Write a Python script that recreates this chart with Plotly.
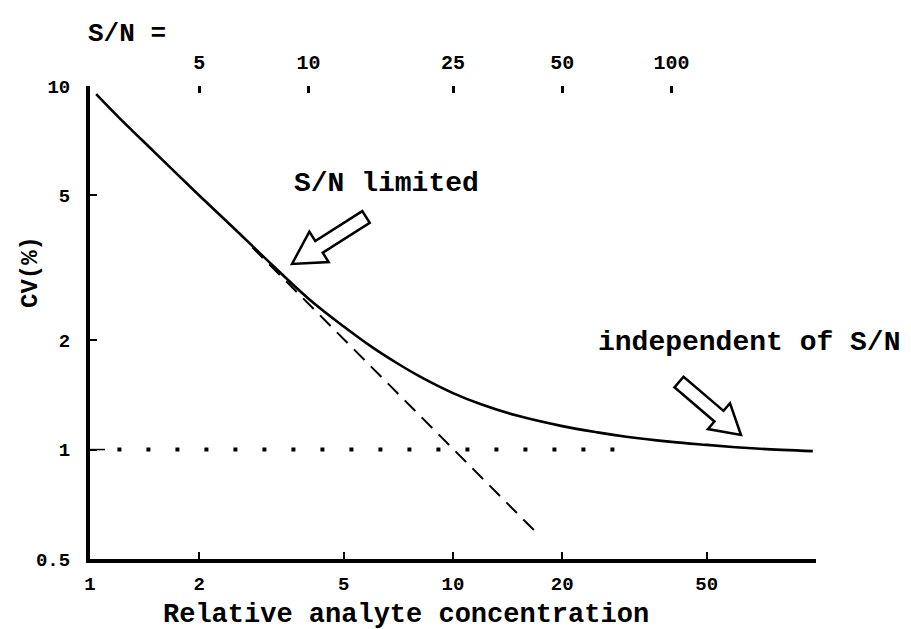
import math
import plotly.graph_objects as go

# ---------------- data ----------------
conc = [1.04, 1.2, 1.5, 2, 2.5, 3, 4, 5, 6, 7, 8, 10, 12, 15, 20, 25, 30, 40, 50, 60, 70, 98]
cv = [9.5, 8.2, 6.6, 5.0, 4.05, 3.4, 2.6, 2.18, 1.91, 1.73, 1.6, 1.43, 1.33, 1.24, 1.16, 1.115,
      1.085, 1.05, 1.03, 1.015, 1.005, 0.99]

dash_conc = [2.8, 17.0]
dash_cv = [3.6, 0.59]

dot_conc = [1.19, 28.5]
dot_cv = [1.0, 1.0]

x_ticks = [1, 2, 5, 10, 20, 50]
x_ticktext = ["1", "2", "5", "10", "20", "50"]
y_ticks = [0.5, 1, 2, 5, 10]
y_ticktext = ["0.5", "1", "2", "5", "10"]
sn_conc = [2, 4, 10, 20, 40]
sn_text = ["5", "10", "25", "50", "100"]

# ---------------- layout geometry ----------------
W, H = 911, 629
L, R, T, B = 82, 103, 78, 78
PW, PH = W - L - R, H - T - B
FONT = "Courier New, Liberation Mono, monospace"
XR = [0, 2]
YR = [math.log10(0.5), 1]


def px2paper(X, Y):
    return (X - L) / PW, (H - B - Y) / PH


def block_arrow(tail, tip, head_len, head_half, shaft_half):
    dx, dy = tip[0] - tail[0], tip[1] - tail[1]
    n = math.hypot(dx, dy)
    ux, uy = dx / n, dy / n
    px, py = -uy, ux
    bx, by = tip[0] - head_len * ux, tip[1] - head_len * uy
    pts = [
        (tail[0] + shaft_half * px, tail[1] + shaft_half * py),
        (bx + shaft_half * px, by + shaft_half * py),
        (bx + head_half * px, by + head_half * py),
        tip,
        (bx - head_half * px, by - head_half * py),
        (bx - shaft_half * px, by - shaft_half * py),
        (tail[0] - shaft_half * px, tail[1] - shaft_half * py),
    ]
    pp = [px2paper(*p) for p in pts]
    return "M " + " L ".join(f"{a:.5f},{b:.5f}" for a, b in pp) + " Z"


fig = go.Figure()

fig.add_trace(go.Scatter(x=dot_conc, y=dot_cv, mode="lines",
                         line=dict(color="black", width=4, dash="4px,25px"),
                         hoverinfo="skip", showlegend=False))
fig.add_trace(go.Scatter(x=dash_conc, y=dash_cv, mode="lines",
                         line=dict(color="black", width=2, dash="15px,9px"),
                         hoverinfo="skip", showlegend=False))
fig.add_trace(go.Scatter(x=conc, y=cv, mode="lines",
                         line=dict(color="black", width=2.6, shape="spline"),
                         hoverinfo="skip", showlegend=False))
# invisible trace to activate the top S/N axis
fig.add_trace(go.Scatter(x=sn_conc, y=[10] * len(sn_conc), xaxis="x2", mode="markers",
                         marker=dict(opacity=0), hoverinfo="skip", showlegend=False))

tickfont = dict(family=FONT, size=19, color="black", weight="bold")

fig.update_layout(
    width=W, height=H,
    margin=dict(l=L, r=R, t=T, b=B),
    paper_bgcolor="white", plot_bgcolor="white",
    showlegend=False,
    xaxis=dict(type="log", range=XR, showgrid=False, zeroline=False,
               showline=True, linecolor="black", linewidth=3.5,
               ticks="inside", ticklen=7, tickwidth=2, tickcolor="black",
               tickvals=x_ticks, ticktext=x_ticktext, tickfont=tickfont,
               ticklabelstandoff=4),
    xaxis2=dict(type="log", range=XR, overlaying="x", side="top", anchor="y",
                showgrid=False, zeroline=False, showline=False,
                ticks="inside", ticklen=7, tickwidth=2.5, tickcolor="black",
                tickvals=sn_conc, ticktext=sn_text,
                tickfont=dict(family=FONT, size=20, color="black", weight="bold"),
                ticklabelstandoff=12),
    yaxis=dict(type="log", range=YR, showgrid=False, zeroline=False,
               showline=True, linecolor="black", linewidth=4,
               ticks="inside", ticklen=7, tickwidth=2, tickcolor="black",
               tickvals=y_ticks, ticktext=y_ticktext, tickfont=tickfont,
               ticklabelstandoff=12),
)

# longer tick at CV = 1
y1 = (0 - YR[0]) / (YR[1] - YR[0])
fig.add_shape(type="line", xref="paper", yref="paper", x0=0, x1=15 / PW, y0=y1, y1=y1,
              line=dict(color="black", width=1.5))

# block arrows
fig.add_shape(type="path", xref="paper", yref="paper",
              path=block_arrow((358, 209), (284, 256), 32, 18, 7),
              line=dict(color="black", width=2.5), fillcolor="white")
fig.add_shape(type="path", xref="paper", yref="paper",
              path=block_arrow((671, 374), (733, 427), 29, 17, 7),
              line=dict(color="black", width=2.5), fillcolor="white")


def text(s, X, Y, size, xanchor="center", angle=0):
    xp, yp = px2paper(X, Y)
    fig.add_annotation(text=s, x=xp, y=yp, xref="paper", yref="paper",
                       xanchor=xanchor, yanchor="middle", showarrow=False, textangle=angle,
                       font=dict(family=FONT, size=size, color="black", weight="bold"))


text("S/N =", 78, 26, 26, xanchor="left")
text("S/N limited", 378, 175, 28)
text("independent of S/N", 741, 334, 28)
text("Relative analyte concentration", 398, 607, 27)
text("CV(%)", 22, 264, 24, angle=-90)

fig.write_html("out.html")
